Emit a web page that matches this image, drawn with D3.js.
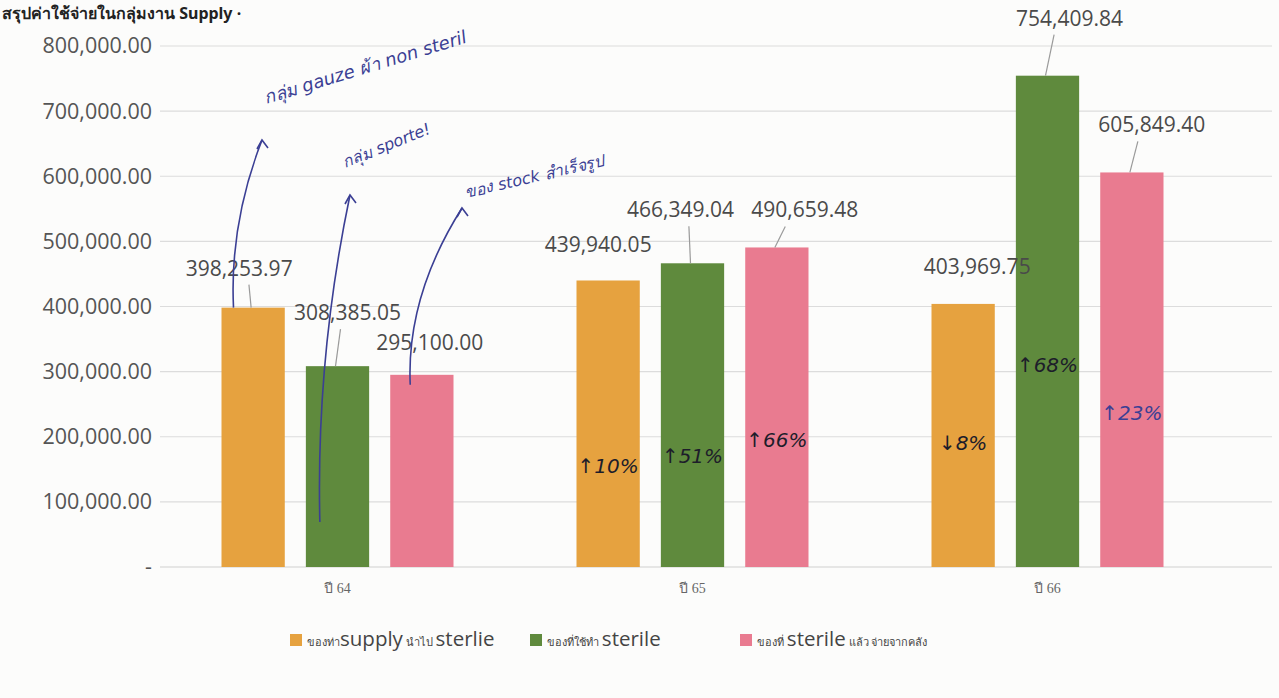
<!DOCTYPE html>
<html>
<head>
<meta charset="utf-8">
<script src="https://cdn.jsdelivr.net/npm/d3@7"></script>
<style>
  html, body { margin: 0; padding: 0; background: #fcfcfb; }
  svg { display: block; }
</style>
</head>
<body>
<svg id="chart" width="1279" height="698"></svg>
<script>
// ---- data ----
const categories = ["ปี 64", "ปี 65", "ปี 66"];
const seriesNames = [
  { thaiA: "ของท่า", latin: "supply", thaiB: " นำไป ", latin2: "sterlie" },
  { thaiA: "ของที่ใช้ทำ ", latin: "sterile", thaiB: "", latin2: "" },
  { thaiA: "ของที่ ", latin: "sterile", thaiB: " แล้ว จ่ายจากคลัง", latin2: "" }
];
const supplyToSterile = [398253.97, 439940.05, 403969.75];
const usedForSterile  = [308385.05, 466349.04, 754409.84];
const sterileIssued   = [295100.00, 490659.48, 605849.40];
const yTicks = [0, 100000, 200000, 300000, 400000, 500000, 600000, 700000, 800000];
const handNotesPct = [
  ["↑10%", "↑51%", "↑66%"],
  [null, null, null],
  ["↓8%", "↑68%", "↑23%"]
];

// ---- layout ----
const colors = ["#E6A23F", "#5F8A3D", "#E97B90"];
const svg = d3.select("#chart");
const W = 1279, H = 698;
const plot = { left: 160, right: 1225, top: 46, bottom: 567 };

svg.append("rect").attr("width", W).attr("height", H).attr("fill", "#fcfcfb");

const y = d3.scaleLinear().domain([0, 800000]).range([plot.bottom, plot.top]);
const x0 = d3.scaleBand().domain(categories).range([plot.left, plot.right]).paddingInner(0).paddingOuter(0);
const x1 = d3.scaleBand().domain([0, 1, 2]).range([0, 232]).paddingInner(0.25).paddingOuter(0);
const groupOffset = (x0.bandwidth() - 232) / 2;

const seriesValues = [supplyToSterile, usedForSterile, sterileIssued];

// title (at the very top, as in the scan)
svg.append("text")
  .attr("x", 2).attr("y", 19)
  .attr("font-family", "'Noto Sans', sans-serif")
  .attr("font-weight", "bold").attr("font-size", 16).attr("fill", "#222")
  .text("สรุปค่าใช้จ่ายในกลุ่มงาน Supply ·");

// gridlines
svg.append("g").selectAll("line").data(yTicks.filter(d => d > 0)).join("line")
  .attr("x1", plot.left).attr("x2", 1272)
  .attr("y1", d => y(d)).attr("y2", d => y(d))
  .attr("stroke", "#dcdcdc").attr("stroke-width", 1.2);
svg.append("line")
  .attr("x1", plot.left).attr("x2", 1272)
  .attr("y1", y(0)).attr("y2", y(0))
  .attr("stroke", "#d0d0d0").attr("stroke-width", 1.2);

// y axis (no line)
const yAxis = d3.axisLeft(y).tickValues(yTicks)
  .tickFormat(d => d === 0 ? "-" : d3.format(",.2f")(d))
  .tickSize(0).tickPadding(6);
const gy = svg.append("g").attr("transform", `translate(${plot.left - 2},0)`).call(yAxis);
gy.select(".domain").remove();
gy.selectAll("text")
  .attr("font-family", "'Open Sans', sans-serif").attr("font-size", 21.5).attr("fill", "#555");

// x axis labels
const xAxis = d3.axisBottom(x0).tickSize(0).tickPadding(16);
const gx = svg.append("g").attr("transform", `translate(0,${plot.bottom})`).call(xAxis);
gx.select(".domain").remove();
gx.selectAll("text")
  .attr("font-family", "'Liberation Serif', serif").attr("font-size", 14).attr("fill", "#666");

// bars
const barData = [];
categories.forEach((c, gi) => {
  seriesValues.forEach((vals, si) => {
    barData.push({ c, gi, si, v: vals[gi] });
  });
});
const bx = d => x0(d.c) + groupOffset + x1(d.si);
svg.append("g").selectAll("rect").data(barData).join("rect")
  .attr("x", bx)
  .attr("y", d => y(d.v))
  .attr("width", x1.bandwidth())
  .attr("height", d => y(0) - y(d.v))
  .attr("fill", d => colors[d.si]);

// data labels (offsets from bar top-centre, Excel-style placement with leader lines)
const labelOffsets = [
  [[-14, -32, true], [10, -46, true], [8, -25, false]],
  [[-10, -28, false], [-12, -46, true], [28, -30, true]],
  [[14, -30, false], [22, -50, true], [20, -40, true]]
];
const fmt = d3.format(",.2f");
barData.forEach(d => {
  const cx = bx(d) + x1.bandwidth() / 2;
  const top = y(d.v);
  const [dx, dy, leader] = labelOffsets[d.gi][d.si];
  if (leader) {
    svg.append("line")
      .attr("x1", cx + dx * 0.3).attr("y1", top + dy + 9)
      .attr("x2", cx - 2).attr("y2", top)
      .attr("stroke", "#9a9a9a").attr("stroke-width", 1.2);
  }
  svg.append("text")
    .attr("x", cx + dx).attr("y", top + dy)
    .attr("text-anchor", "middle")
    .attr("font-family", "'Open Sans', sans-serif").attr("font-size", 21)
    .attr("fill", "#4a4a4a")
    .text(fmt(d.v));
});

// legend
const legend = svg.append("g").attr("transform", "translate(290,640)");
const legendX = [0, 240, 450];
seriesNames.forEach((s, i) => {
  const g = legend.append("g").attr("transform", `translate(${legendX[i]},0)`);
  g.append("rect").attr("x", 0).attr("y", -6).attr("width", 12).attr("height", 12).attr("fill", colors[i]);
  const t = g.append("text").attr("x", 17).attr("y", 6)
    .attr("font-family", "'Open Sans', sans-serif").attr("fill", "#444");
  t.append("tspan").attr("font-size", 11).text(s.thaiA);
  t.append("tspan").attr("font-size", 20.5).text(s.latin);
  if (s.thaiB) t.append("tspan").attr("font-size", 11).text(s.thaiB);
  if (s.latin2) t.append("tspan").attr("font-size", 20.5).text(s.latin2);
});

// handwritten annotations (blue ink)
const ink = "#3b3f94";
const hand = svg.append("g").attr("font-family", "'DejaVu Sans', sans-serif")
  .attr("font-style", "italic").attr("fill", ink);
const notes = [
  { t: "กลุ่ม gauze ผ้า non steril", x: 266, y: 104, r: -17, s: 18 },
  { t: "กลุ่ม sporte! ", x: 345, y: 168, r: -22, s: 16 },
  { t: "ของ stock สำเร็จรูป", x: 466, y: 198, r: -13, s: 16 }
];
notes.forEach(n => {
  hand.append("text").attr("transform", `translate(${n.x},${n.y}) rotate(${n.r})`)
    .attr("font-size", n.s).text(n.t);
});
// arrows from group-1 bars up to the notes
const g1 = barData.filter(d => d.gi === 0);
const arrowTargets = [[262, 140], [350, 195], [462, 208]];
g1.forEach((d, i) => {
  const sx = bx(d) + (i === 0 ? 12 : i === 1 ? 14 : 20);
  const sy = i === 0 ? y(d.v) : i === 1 ? y(0) - 45 : y(d.v) + 10;
  const [tx, ty] = arrowTargets[i];
  const p = d3.path();
  p.moveTo(sx, sy);
  p.quadraticCurveTo(sx - 4, (sy + ty) / 2, tx, ty);
  hand.append("path").attr("d", p.toString()).attr("fill", "none")
    .attr("stroke", ink).attr("stroke-width", 1.6);
  hand.append("path")
    .attr("d", `M${tx - 5},${ty + 9} L${tx},${ty} L${tx + 6},${ty + 8}`)
    .attr("fill", "none").attr("stroke", ink).attr("stroke-width", 1.6);
});

// hand-written percentage changes on bars
const pctY = [[null, null, null], [145000, 160000, 185000], [180000, 300000, 225000]];
barData.forEach(d => {
  const note = d.gi === 1 ? handNotesPct[0][d.si] : d.gi === 2 ? handNotesPct[2][d.si] : null;
  if (!note) return;
  svg.append("text")
    .attr("x", bx(d) + x1.bandwidth() / 2).attr("y", y(pctY[d.gi][d.si]))
    .attr("text-anchor", "middle")
    .attr("font-family", "'DejaVu Sans', sans-serif").attr("font-style", "italic")
    .attr("font-size", 20)
    .attr("fill", (d.gi === 2 && d.si === 2) ? ink : "#1d1d2a")
    .text(note);
});
</script>
</body>
</html>
